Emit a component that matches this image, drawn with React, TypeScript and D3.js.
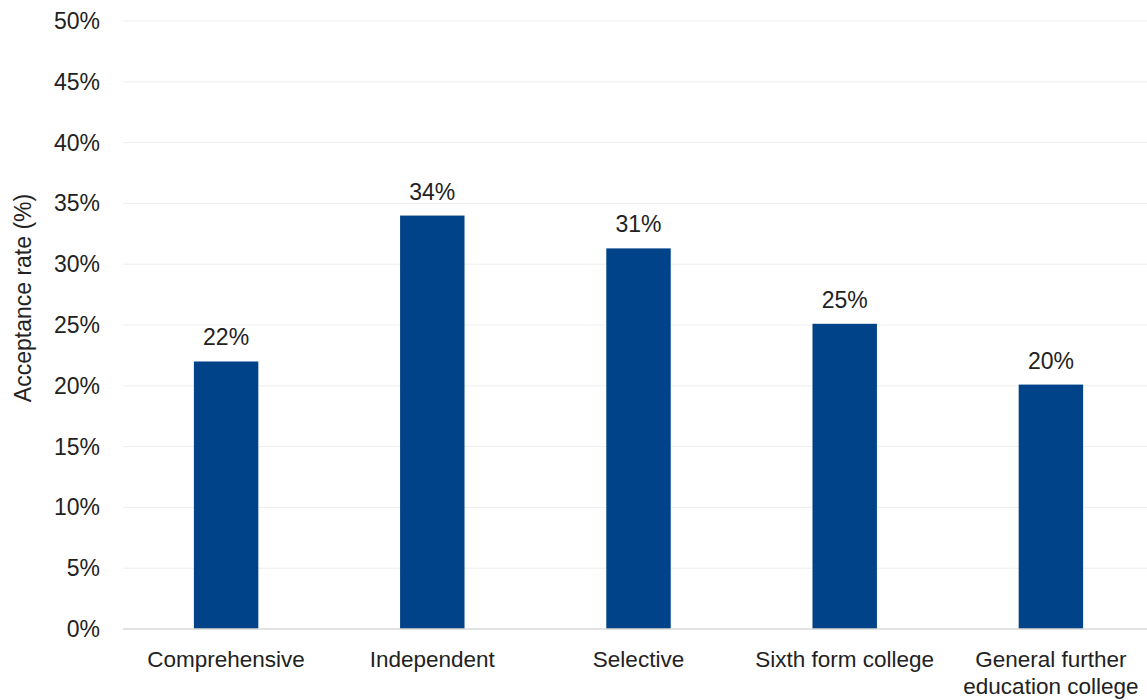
import React from "react";
import * as d3 from "d3";

const categories = ["Comprehensive", "Independent", "Selective", "Sixth form college", "General further education college"];
const values = [22, 34, 31.3, 25.1, 20.1];
const valueLabels = ["22%", "34%", "31%", "25%", "20%"];
const yTicks = [0, 5, 10, 15, 20, 25, 30, 35, 40, 45, 50];
const categoryLines: string[][] = [["Comprehensive"], ["Independent"], ["Selective"], ["Sixth form college"], ["General further", "education college"]];

const W = 1147, H = 700;
const FONT = "'Liberation Sans', Arial, sans-serif";

export default function App() {
  const x = d3.scaleBand<string>().domain(categories).range([123, 1154]).paddingInner(0.6875).paddingOuter(0.34375);
  const y = d3.scaleLinear().domain([0, 50]).range([629, 21]);
  return (
    <svg width={W} height={H} style={{ position: "absolute", left: 0, top: 0, background: "#fff" }}>
      {yTicks.map((t) => (
        <g key={t}>
          {t > 0 && <line x1={123} x2={W} y1={y(t)} y2={y(t)} stroke="#eeeeee" strokeWidth={1} />}
          <text x={100} y={y(t)} dy="0.35em" textAnchor="end" fontFamily={FONT} fontSize={23} fill="#222">{t}%</text>
        </g>
      ))}
      {categories.map((c, i) => (
        <g key={c}>
          <rect x={x(c)} y={y(values[i])} width={x.bandwidth()} height={y(0) - y(values[i])} fill="#004388" />
          <text x={x(c)! + x.bandwidth() / 2} y={y(values[i]) - 16} textAnchor="middle" fontFamily={FONT} fontSize={23} fill="#222">{valueLabels[i]}</text>
          {categoryLines[i].map((ln, j) => (
            <text key={j} x={x(c)! + x.bandwidth() / 2} y={667 + j * 27} textAnchor="middle" fontFamily={FONT} fontSize={22.5} fill="#222">{ln}</text>
          ))}
        </g>
      ))}
      <line x1={123} x2={W} y1={y(0)} y2={y(0)} stroke="#d9d9d9" strokeWidth={1.5} />
      <text transform={`translate(31,298) rotate(-90)`} textAnchor="middle" fontFamily={FONT} fontSize={23} fill="#222">Acceptance rate (%)</text>
    </svg>
  );
}
